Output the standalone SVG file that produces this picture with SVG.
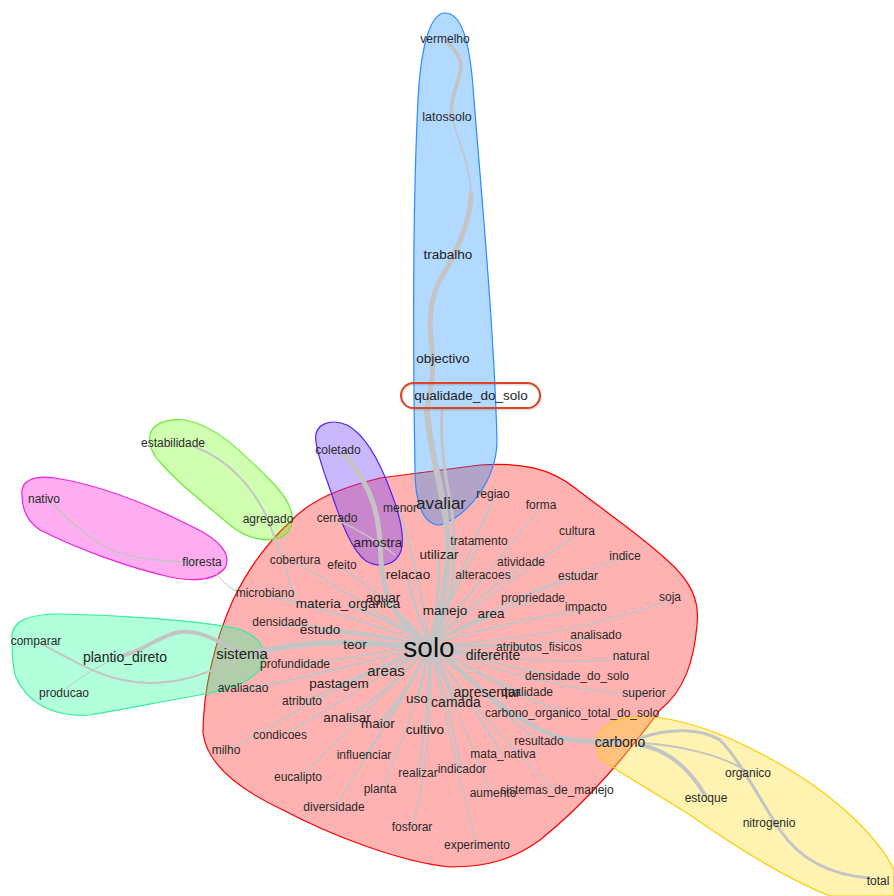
<svg xmlns="http://www.w3.org/2000/svg" width="894" height="896" viewBox="0 0 894 896">
<style>
text{font-family:"Liberation Sans",Arial,sans-serif;fill:#222;text-anchor:middle}
.s{font-size:12px;fill:#2a2a2a}
.m{font-size:13.5px}
.l{font-size:15px}
.e{fill:none;stroke:#c4c4c4;stroke-linecap:round}
.w1{stroke-width:1}.w15{stroke-width:1.5}.w2{stroke-width:2}.w3{stroke-width:3}.w4{stroke-width:4}.w5{stroke-width:5}.w6{stroke-width:6}
.blob{stroke-width:1.2}
</style>
<rect width="894" height="896" fill="#ffffff"/>
<g id="clusters">
<path id="c-red" class="blob" d="M203,733 C203,690 215,640 233,600 C250,565 270,540 290,522 C310,500 340,488 380,478 L480,465 C520,462 550,468 575,488 C610,515 640,535 667,560 C690,580 700,600 697,625 C694,660 685,690 660,710 C630,750 590,800 540,840 C515,858 490,867 450,867 C400,862 330,835 283,810 C240,790 207,765 203,733 Z" fill="#ff0000" fill-opacity="0.3" stroke="#ff0000"/>
<path id="c-blue" class="blob" d="M415,470 C413,350 413,200 418,100 C421,40 432,13 445,13 C460,13 470,35 474,100 C482,200 494,330 497,440 C497,478 470,515 440,525 C422,525 415,500 415,470 Z" fill="#0080ff" fill-opacity="0.3" stroke="#2a8cff"/>
<path id="c-purple" class="blob" d="M316,442 C313,424 330,418 347,425 C366,435 380,462 391,492 C401,518 405,537 401,551 C396,565 380,569 366,561 C352,551 341,522 331,492 C324,472 318,457 316,442 Z" fill="#6633ff" fill-opacity="0.35" stroke="#5522ee"/>
<path id="c-green" class="blob" d="M150,440 C148,425 165,418 185,420 C215,425 240,450 270,480 C290,500 300,520 285,535 C270,545 245,538 230,525 C200,500 175,480 160,462 C153,455 150,448 150,440 Z" fill="#66ff00" fill-opacity="0.3" stroke="#66ee33"/>
<path id="c-magenta" class="blob" d="M22,495 C20,480 35,475 55,478 C100,485 150,505 195,528 C220,540 232,555 225,568 C215,580 195,582 170,577 C130,568 80,550 40,530 C28,522 22,510 22,495 Z" fill="#ff33dd" fill-opacity="0.4" stroke="#ee22dd"/>
<path id="c-mint" class="blob" d="M12,640 C10,620 30,614 60,614 C120,615 190,620 235,628 C260,635 268,650 262,665 C255,680 235,688 210,693 C170,700 120,710 90,715 C50,718 25,700 15,675 C12,662 12,650 12,640 Z" fill="#22ff99" fill-opacity="0.35" stroke="#33ee99"/>
<path id="c-yellow" class="blob" d="M597,745 C595,730 610,718 640,716 C690,718 740,740 790,770 C840,800 880,840 894,870 L894,896 L830,896 C790,880 740,850 690,815 C650,790 615,770 600,758 Z" fill="#ffdd22" fill-opacity="0.35" stroke="#ffcc00"/>
</g>
<g id="connectors">
<path class="e w6" d="M432,640 C445,600 452,560 446,520 C440,480 428,440 427,410"/>
<path class="e w3" d="M440,630 C455,590 458,540 450,500 C444,470 440,440 442,410"/>
<path class="e w5" d="M427,410 C430,390 435,370 432,350 C428,320 430,300 440,280 C455,255 470,225 471,195"/>
<path class="e w15" d="M471,195 C470,160 455,135 452,117"/>
<path class="e w4" d="M452,117 C448,95 465,75 460,60 C456,50 450,45 447,42"/>
<path class="e w5" d="M420,640 C395,620 382,590 381,560 C380,520 375,490 345,455"/>
<path class="e w6" d="M420,648 C360,640 310,640 258,652"/>
<path class="e w4" d="M240,652 C215,640 200,630 180,632 C160,635 145,650 125,655"/>
<path class="e w2" d="M40,643 C80,665 110,683 150,683 C190,683 215,668 238,660"/>
<path class="e w1" d="M64,690 C90,670 110,660 125,655"/>
<path class="e w5" d="M440,652 C480,690 520,725 560,738 C580,742 600,742 620,742"/>
<path class="e w3" d="M640,738 C670,728 700,728 720,740 C740,760 760,800 780,830 C800,860 830,875 870,878"/>
<path class="e w2" d="M640,743 C680,745 720,755 745,770"/>
<path class="e w4" d="M640,745 C670,750 690,770 705,795"/>
<path class="e w3" d="M430,645 Q440,628 445,612"/>
<path class="e w3" d="M430,645 Q465,625 491,617"/>
<path class="e w3" d="M430,645 Q415,610 408,580"/>
<path class="e w3" d="M430,645 Q440,600 439,560"/>
<path class="e w2" d="M430,645 Q455,590 479,545"/>
<path class="e w2" d="M430,645 Q465,560 493,500"/>
<path class="e w2" d="M430,645 Q460,605 483,578"/>
<path class="e w2" d="M430,645 Q475,600 521,565"/>
<path class="e w15" d="M430,645 Q500,600 578,578"/>
<path class="e w15" d="M430,645 Q500,585 577,535"/>
<path class="e w15" d="M430,645 Q520,590 625,558"/>
<path class="e w15" d="M430,645 Q480,580 541,508"/>
<path class="e w2" d="M430,645 Q480,615 533,600"/>
<path class="e w2" d="M430,645 Q510,620 586,610"/>
<path class="e w15" d="M430,645 Q560,640 670,600"/>
<path class="e w15" d="M430,645 Q520,650 596,637"/>
<path class="e w3" d="M430,645 Q490,645 539,648"/>
<path class="e w4" d="M430,645 Q465,652 493,657"/>
<path class="e w15" d="M430,645 Q540,668 631,658"/>
<path class="e w2" d="M430,645 Q510,670 577,678"/>
<path class="e w15" d="M430,645 Q540,690 644,695"/>
<path class="e w2" d="M430,645 Q480,675 527,694"/>
<path class="e w4" d="M430,645 Q460,670 487,695"/>
<path class="e w2" d="M430,645 Q500,690 572,715"/>
<path class="e w2" d="M430,645 Q490,700 539,743"/>
<path class="e w2" d="M430,645 Q470,700 503,756"/>
<path class="e w15" d="M430,645 Q480,720 557,792"/>
<path class="e w15" d="M430,645 Q460,720 493,795"/>
<path class="e w2" d="M430,645 Q450,710 462,771"/>
<path class="e w15" d="M430,645 Q450,740 477,847"/>
<path class="e w15" d="M430,645 Q435,740 412,829"/>
<path class="e w2" d="M430,645 Q430,710 418,775"/>
<path class="e w4" d="M430,645 Q445,675 456,704"/>
<path class="e w3" d="M430,645 Q425,672 417,700"/>
<path class="e w3" d="M430,645 Q430,690 425,731"/>
<path class="e w15" d="M430,645 Q415,720 380,791"/>
<path class="e w2" d="M430,645 Q405,700 364,757"/>
<path class="e w3" d="M430,645 Q410,690 378,725"/>
<path class="e w15" d="M430,645 Q390,720 334,809"/>
<path class="e w2" d="M430,645 Q395,685 347,719"/>
<path class="e w15" d="M430,645 Q370,710 298,779"/>
<path class="e w4" d="M430,645 Q410,660 386,673"/>
<path class="e w3" d="M430,645 Q390,665 339,685"/>
<path class="e w2" d="M430,645 Q370,670 302,703"/>
<path class="e w15" d="M430,645 Q360,690 280,737"/>
<path class="e w15" d="M430,645 Q330,690 226,752"/>
<path class="e w2" d="M430,645 Q340,670 243,690"/>
<path class="e w2" d="M430,645 Q365,655 295,666"/>
<path class="e w3" d="M430,645 Q390,645 355,646"/>
<path class="e w3" d="M430,645 Q375,635 320,631"/>
<path class="e w2" d="M430,645 Q350,628 280,624"/>
<path class="e w3" d="M430,645 Q390,620 348,605"/>
<path class="e w3" d="M430,645 Q405,620 383,600"/>
<path class="e w2" d="M430,645 Q350,615 265,595"/>
<path class="e w2" d="M430,645 Q390,600 342,568"/>
<path class="e w2" d="M430,645 Q360,600 295,562"/>
<path class="e w15" d="M395,555 Q370,535 337,520"/>
<path class="e w2" d="M430,645 Q420,580 400,510"/>
<path class="e w2" d="M195,447 C230,460 255,490 268,520 C275,540 285,560 295,600"/>
<path class="e w15" d="M48,500 C70,520 95,548 130,556 C160,562 185,562 200,562"/>
<path class="e w1" d="M210,567 C220,578 228,588 238,592"/>
</g>
<g id="nodes">
<g id="n-vermelho"><text class="s" x="445" y="43">vermelho</text></g>
<g id="n-latossolo"><text class="s" x="447" y="121" style="font-size:12.5px">latossolo</text></g>
<g id="n-trabalho"><text class="m" x="448" y="259">trabalho</text></g>
<g id="n-objectivo"><text class="m" x="443" y="363">objectivo</text></g>
<g id="n-qualidade_do_solo"><text class="m" x="471" y="400">qualidade_do_solo</text></g>
<g id="n-avaliar"><text x="441" y="509" style="font-size:17px">avaliar</text></g>
<g id="n-regiao"><text class="s" x="493" y="498">regiao</text></g>
<g id="n-forma"><text class="s" x="541" y="509">forma</text></g>
<g id="n-cultura"><text class="s" x="577" y="535">cultura</text></g>
<g id="n-indice"><text class="s" x="625" y="560">indice</text></g>
<g id="n-tratamento"><text class="s" x="479" y="545">tratamento</text></g>
<g id="n-atividade"><text class="s" x="521" y="566">atividade</text></g>
<g id="n-alteracoes"><text class="s" x="483" y="579">alteracoes</text></g>
<g id="n-estudar"><text class="s" x="578" y="580">estudar</text></g>
<g id="n-soja"><text class="s" x="670" y="601">soja</text></g>
<g id="n-propriedade"><text class="s" x="533" y="602">propriedade</text></g>
<g id="n-impacto"><text class="s" x="586" y="611">impacto</text></g>
<g id="n-area"><text class="m" x="491" y="618">area</text></g>
<g id="n-manejo"><text class="m" x="445" y="615">manejo</text></g>
<g id="n-utilizar"><text class="m" x="439" y="559">utilizar</text></g>
<g id="n-relacao"><text class="m" x="408" y="579">relacao</text></g>
<g id="n-aguar"><text class="m" x="383" y="602">aguar</text></g>
<g id="n-materia_organica"><text class="m" x="348" y="608">materia_organica</text></g>
<g id="n-menor"><text class="s" x="400" y="512">menor</text></g>
<g id="n-cerrado"><text class="s" x="337" y="522">cerrado</text></g>
<g id="n-amostra"><text class="m" x="378" y="547">amostra</text></g>
<g id="n-coletado"><text class="s" x="338" y="454">coletado</text></g>
<g id="n-cobertura"><text class="s" x="295" y="564">cobertura</text></g>
<g id="n-efeito"><text class="s" x="342" y="569">efeito</text></g>
<g id="n-microbiano"><text class="s" x="265" y="597">microbiano</text></g>
<g id="n-densidade"><text class="s" x="280" y="626">densidade</text></g>
<g id="n-estudo"><text class="m" x="320" y="634">estudo</text></g>
<g id="n-teor"><text class="m" x="355" y="649">teor</text></g>
<g id="n-sistema"><text class="l" x="242" y="659">sistema</text></g>
<g id="n-solo"><text x="429" y="657" style="font-size:28px;fill:#111">solo</text></g>
<g id="n-profundidade"><text class="s" x="295" y="668">profundidade</text></g>
<g id="n-areas"><text class="l" x="386" y="676">areas</text></g>
<g id="n-pastagem"><text class="m" x="339" y="688">pastagem</text></g>
<g id="n-avaliacao"><text class="s" x="243" y="692">avaliacao</text></g>
<g id="n-atributo"><text class="s" x="302" y="705">atributo</text></g>
<g id="n-analisar"><text class="m" x="347" y="722">analisar</text></g>
<g id="n-maior"><text class="m" x="378" y="728">maior</text></g>
<g id="n-uso"><text class="m" x="417" y="703">uso</text></g>
<g id="n-camada"><text class="m" x="456" y="707" style="font-size:14px">camada</text></g>
<g id="n-apresentar"><text class="m" x="487" y="697" style="font-size:14px">apresentar</text></g>
<g id="n-qualidade"><text class="s" x="527" y="696">qualidade</text></g>
<g id="n-diferente"><text class="m" x="493" y="660" style="font-size:14px">diferente</text></g>
<g id="n-atributos_fisicos"><text class="s" x="539" y="651">atributos_fisicos</text></g>
<g id="n-analisado"><text class="s" x="596" y="639">analisado</text></g>
<g id="n-natural"><text class="s" x="631" y="660">natural</text></g>
<g id="n-densidade_do_solo"><text class="s" x="577" y="680">densidade_do_solo</text></g>
<g id="n-superior"><text class="s" x="644" y="697">superior</text></g>
<g id="n-carbono_organico_total_do_solo"><text class="s" x="572" y="717">carbono_organico_total_do_solo</text></g>
<g id="n-resultado"><text class="s" x="539" y="745">resultado</text></g>
<g id="n-carbono"><text class="m" x="620" y="747" style="font-size:14px">carbono</text></g>
<g id="n-mata_nativa"><text class="s" x="503" y="758">mata_nativa</text></g>
<g id="n-indicador"><text class="s" x="462" y="773">indicador</text></g>
<g id="n-aumento"><text class="s" x="493" y="797">aumento</text></g>
<g id="n-sistemas_de_manejo"><text class="s" x="557" y="794">sistemas_de_manejo</text></g>
<g id="n-experimento"><text class="s" x="477" y="849">experimento</text></g>
<g id="n-cultivo"><text class="m" x="425" y="734">cultivo</text></g>
<g id="n-realizar"><text class="s" x="418" y="777">realizar</text></g>
<g id="n-influenciar"><text class="s" x="364" y="759">influenciar</text></g>
<g id="n-condicoes"><text class="s" x="280" y="739">condicoes</text></g>
<g id="n-milho"><text class="s" x="226" y="754">milho</text></g>
<g id="n-eucalipto"><text class="s" x="298" y="781">eucalipto</text></g>
<g id="n-planta"><text class="s" x="380" y="793">planta</text></g>
<g id="n-diversidade"><text class="s" x="334" y="811">diversidade</text></g>
<g id="n-fosforar"><text class="s" x="412" y="831">fosforar</text></g>
<g id="n-organico"><text class="s" x="748" y="777">organico</text></g>
<g id="n-estoque"><text class="s" x="706" y="802">estoque</text></g>
<g id="n-nitrogenio"><text class="s" x="769" y="827">nitrogenio</text></g>
<g id="n-total"><text class="s" x="878" y="885">total</text></g>
<g id="n-estabilidade"><text class="s" x="173" y="447">estabilidade</text></g>
<g id="n-agregado"><text class="s" x="268" y="523">agregado</text></g>
<g id="n-nativo"><text class="s" x="44" y="503">nativo</text></g>
<g id="n-floresta"><text class="s" x="202" y="566">floresta</text></g>
<g id="n-comparar"><text class="s" x="36" y="645">comparar</text></g>
<g id="n-plantio_direto"><text class="m" x="125" y="662" style="font-size:14px">plantio_direto</text></g>
<g id="n-producao"><text class="s" x="64" y="697">producao</text></g>
</g>
<g id="highlight">
<rect x="402" y="384.5" width="139" height="25" rx="12.5" fill="none" stroke="#000" stroke-opacity="0.12" stroke-width="2"/>
<rect x="401" y="383" width="139" height="25" rx="12.5" fill="none" stroke="#dd4422" stroke-width="2"/>
</g>
</svg>
